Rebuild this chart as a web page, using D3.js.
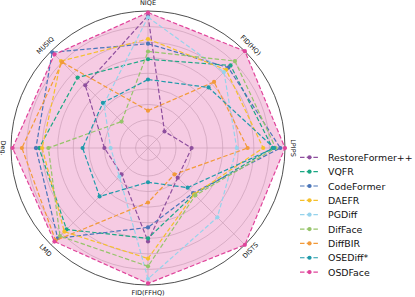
<!DOCTYPE html>
<html>
<head>
<meta charset="utf-8">
<script src="https://cdn.jsdelivr.net/npm/d3@7"></script>
<style>
  body { margin: 0; background: #fff; }
  svg text { font-family: "DejaVu Sans", sans-serif; fill: #111; }
</style>
</head>
<body>
<svg id="radar" width="415" height="297"></svg>
<script>
// axes, clockwise from the top
var axes = ["NIQE", "FID(HQ)", "LPIPS", "DISTS", "FID(FFHQ)", "LMD", "Deg.", "MUSIQ"];

var methods = ["RestoreFormer++", "VQFR", "CodeFormer", "DAEFR", "PGDiff", "DifFace", "DiffBIR", "OSEDiff*", "OSDFace"];

// normalized scores per axis (same order as axes)
var restoreformerVals = [0.97, 0.27, 0.40, 0.39, 0.72, 0.36, 0.40, 0.69];
var vqfrVals          = [0.69, 0.87, 0.92, 0.54, 0.70, 0.86, 0.82, 0.76];
var codeformerVals    = [0.79, 0.85, 0.97, 0.53, 0.63, 0.94, 0.84, 0.99];
var daefrVals         = [0.82, 0.83, 0.86, 0.54, 0.83, 0.88, 0.80, 0.91];
var pgdiffVals        = [0.96, 0.81, 0.69, 0.75, 0.96, 0.38, 0.36, 0.52];
var diffaceVals       = [0.74, 0.91, 0.94, 0.55, 0.88, 0.92, 0.76, 0.36];
var diffbirVals       = [0.36, 0.72, 0.76, 0.36, 0.47, 0.96, 0.93, 0.90];
var osediffVals       = [0.56, 0.67, 0.93, 0.48, 0.34, 0.56, 0.54, 0.53];
var osdfaceVals       = [0.99, 1.00, 1.00, 1.00, 0.99, 0.97, 0.99, 0.97];

var colors = ["#8e4f9e", "#1ba784", "#4a75b8", "#f5c02c", "#96d3ec", "#96c46a", "#f29a3a", "#1f9aaa", "#e0449b"];

var ringTicks = [0.2, 0.3, 0.4, 0.5, 0.6, 0.7, 0.8, 0.9];

var allVals = [restoreformerVals, vqfrVals, codeformerVals, daefrVals, pgdiffVals,
               diffaceVals, diffbirVals, osediffVals, osdfaceVals];

var cx = 148, cy = 148, R = 137;

var svg = d3.select("#radar");
var g = svg.append("g").attr("transform", "translate(" + cx + "," + cy + ")");

var rScale = d3.scaleLinear().domain([0.12, 1.0]).range([0, R]);
var aScale = d3.scaleLinear().domain([0, axes.length]).range([0, 2 * Math.PI]);

function px(v, i) { return Math.sin(aScale(i)) * rScale(v); }
function py(v, i) { return -Math.cos(aScale(i)) * rScale(v); }

// grid rings
g.selectAll(".ring")
    .data(ringTicks)
    .enter().append("circle")
    .attr("r", function(d) { return rScale(d); })
    .attr("fill", "none")
    .attr("stroke", "#c4c4c4")
    .attr("stroke-width", 0.7);

// spokes
g.selectAll(".spoke")
    .data(axes)
    .enter().append("line")
    .attr("x1", 0).attr("y1", 0)
    .attr("x2", function(d, i) { return px(1.0, i); })
    .attr("y2", function(d, i) { return py(1.0, i); })
    .attr("stroke", "#c4c4c4")
    .attr("stroke-width", 0.7);

var line = d3.lineRadial()
    .angle(function(d, i) { return aScale(i); })
    .radius(function(d) { return rScale(d); })
    .curve(d3.curveLinearClosed);

// OSDFace fill underneath
g.append("path")
    .datum(osdfaceVals)
    .attr("d", line)
    .attr("fill", colors[8])
    .attr("fill-opacity", 0.28)
    .attr("stroke", "none");

// outer frame
g.append("circle")
    .attr("r", rScale(1.0))
    .attr("fill", "none")
    .attr("stroke", "#222")
    .attr("stroke-width", 0.8);

// series
allVals.forEach(function(vals, k) {
    g.append("path")
        .datum(vals)
        .attr("d", line)
        .attr("fill", "none")
        .attr("stroke", colors[k])
        .attr("stroke-width", 1.2)
        .attr("stroke-dasharray", "4.5,2.2");

    g.selectAll(".pt" + k)
        .data(vals)
        .enter().append("circle")
        .attr("cx", function(d, i) { return px(d, i); })
        .attr("cy", function(d, i) { return py(d, i); })
        .attr("r", 2.1)
        .attr("fill", colors[k]);
});

// axis labels, rotated along the circle
g.selectAll(".axlabel")
    .data(axes)
    .enter().append("text")
    .attr("text-anchor", "middle")
    .attr("dominant-baseline", "central")
    .attr("font-size", 6.5)
    .attr("transform", function(d, i) {
        var deg = aScale(i) * 180 / Math.PI;
        var rot = deg > 90 && deg < 270 ? deg - 180 : (deg >= 270 ? deg - 360 : deg);
        if (deg === 270) rot = 90;
        var x = Math.sin(aScale(i)) * (R + 8), y = -Math.cos(aScale(i)) * (R + 8);
        return "translate(" + x + "," + y + ") rotate(" + rot + ")";
    })
    .text(function(d) { return d; });

// legend
var legend = svg.append("g").attr("transform", "translate(300,157.3)");
methods.forEach(function(m, k) {
    var row = legend.append("g").attr("transform", "translate(0," + (k * 14.35) + ")");
    row.append("line")
        .attr("x1", 0).attr("x2", 19)
        .attr("stroke", colors[k])
        .attr("stroke-width", 1.2)
        .attr("stroke-dasharray", "4.5,2.2");
    row.append("circle")
        .attr("cx", 9.5).attr("r", 2.1)
        .attr("fill", colors[k]);
    row.append("text")
        .attr("x", 28)
        .attr("dominant-baseline", "central")
        .attr("font-size", 9.4)
        .text(m);
});
</script>
</body>
</html>
